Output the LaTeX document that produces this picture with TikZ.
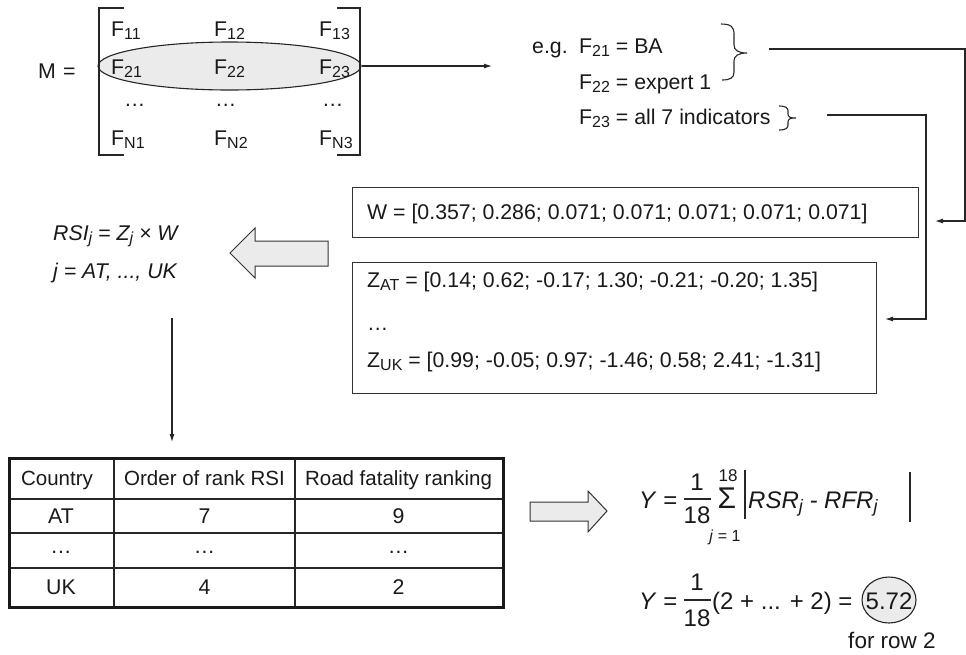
\documentclass[tikz,border=0pt]{standalone}
\usepackage{fontspec}
\setmainfont{Liberation Sans}
\usetikzlibrary{arrows.meta,shapes.geometric}
\newcommand\sbs[1]{\raisebox{-3.5pt}{\fontsize{16}{16}\selectfont #1}}
\begin{document}
\begin{tikzpicture}[x=1pt,y=-1pt,
  txt/.style={font=\fontsize{20.5}{24}\selectfont, inner sep=0pt, text=black!90},
  mtxt/.style={font=\fontsize{21.3}{24}\selectfont, inner sep=0pt, text=black!90},
  ftxt/.style={font=\fontsize{24}{28}\selectfont, inner sep=0pt, text=black!90},
  smalltxt/.style={font=\fontsize{17}{19}\selectfont, inner sep=0pt, text=black!90},
  ln/.style={line width=1.1pt, draw=black!85},
  arr/.style={ln, -{Latex[length=8pt,width=5pt]}},
  hollow/.style={line width=1pt, draw=black!80, fill=black!8},
  boxs/.style={line width=1.3pt, draw=black!80, inner sep=0pt},
  tabthin/.style={line width=1.2pt, draw=black!85},
  tabthick/.style={line width=3pt, draw=black!90},
]
\useasboundingbox (0,0) rectangle (966,654);

% ---------- matrix ----------
\node[mtxt, anchor=base west] (M) at (38,78) {M\,\,=};
\node[ellipse, draw=black!85, line width=1.1pt, fill=black!8, minimum width=263pt, minimum height=48pt, inner sep=0pt] (ell) at (229.5,66) {};
\draw[ln] (124,8) -- (99,8) -- (99,155) -- (124,155);
\draw[ln] (337,8) -- (360,8) -- (360,155) -- (337,155);
\node[mtxt, anchor=base west] (f11) at (111,36) {F\sbs{11}};
\node[mtxt, anchor=base west] (f12) at (214,36) {F\sbs{12}};
\node[mtxt, anchor=base west] (f13) at (319,36) {F\sbs{13}};
\node[mtxt, anchor=base west] (f21) at (111,74) {F\sbs{21}};
\node[mtxt, anchor=base west] (f22) at (214,74) {F\sbs{22}};
\node[mtxt, anchor=base west] (f23) at (319,74) {F\sbs{23}};
\node[mtxt, anchor=base west] (d1) at (124,106) {…};
\node[mtxt, anchor=base west] (d2) at (215,106) {…};
\node[mtxt, anchor=base west] (d3) at (322,106) {…};
\node[mtxt, anchor=base west] (fn1) at (111,145) {F\sbs{N1}};
\node[mtxt, anchor=base west] (fn2) at (214,145) {F\sbs{N2}};
\node[mtxt, anchor=base west] (fn3) at (319,145) {F\sbs{N3}};

\coordinate (egtip) at (492,66);
\draw[arr] (ell.east) -- (egtip);

% ---------- e.g. block ----------
\node[mtxt, anchor=base west] (eg) at (532,53) {e.g.};
\node[mtxt, anchor=base west] (eg1) at (579,53) {F\sbs{21} = BA};
\node[mtxt, anchor=base west] (eg2) at (579,89) {F\sbs{22} = expert 1};
\node[mtxt, anchor=base west] (eg3) at (579,124) {F\sbs{23} = all 7 indicators};
% braces
\draw[ln] (721,24) .. controls (731,24) and (734,27) .. (734,34) -- (734,45)
  .. controls (734,50) and (738,53) .. (747,53)
  .. controls (738,53) and (734,56) .. (734,61) -- (734,72)
  .. controls (734,78) and (730,80) .. (722,80);
\draw[ln] (779,106) .. controls (786,106) and (788,108) .. (788,111) -- (788,114)
  .. controls (788,117) and (790,118) .. (796,118)
  .. controls (790,118) and (788,119) .. (788,122) -- (788,125)
  .. controls (788,128) and (786,130) .. (779,130);

% ---------- W and Z boxes ----------
\node[boxs, anchor=north west, minimum width=566pt, minimum height=50pt] (wbox) at (352,187) {};
\node[mtxt, anchor=base west] (wtxt) at (367,219) {W = [0.357; 0.286; 0.071; 0.071; 0.071; 0.071; 0.071]};
\node[boxs, anchor=north west, minimum width=524pt, minimum height=131pt] (zbox) at (352,262) {};
\node[mtxt, anchor=base west] (zat) at (367,287) {Z\sbs{AT} = [0.14; 0.62; -0.17; 1.30; -0.21; -0.20; 1.35]};
\node[mtxt, anchor=base west] (zd) at (367,330) {…};
\node[mtxt, anchor=base west] (zuk) at (367,367) {Z\sbs{UK} = [0.99; -0.05; 0.97; -1.46; 0.58; 2.41; -1.31]};

% connectors from braces
\coordinate (l1a) at (769,49);
\coordinate (l1b) at (965,49);
\coordinate (l1c) at (965,221);
\coordinate (l1d) at (935,221);
\draw[arr] (l1a) -- (l1b) -- (l1c) -- (l1d);
\coordinate (l2a) at (827,115);
\coordinate (l2b) at (926,115);
\coordinate (l2c) at (926,319);
\coordinate (l2d) at (885,319);
\draw[arr] (l2a) -- (l2b) -- (l2c) -- (l2d);

% ---------- hollow left arrow ----------
\draw[hollow] (230,253) -- (255,228) -- (255,241) -- (328,241) -- (328,266) -- (255,266) -- (255,278) -- cycle;

% ---------- RSI ----------
\node[mtxt, anchor=base west] (rsi) at (53,240) {\textit{RSI\sbs{j} = Z\sbs{j} × W}};
\node[mtxt, anchor=base west] (jl) at (53,278) {\textit{j = AT, ..., UK}};
\coordinate (dA) at (172,318);
\coordinate (dB) at (172,442);
\draw[arr] (dA) -- (dB);

% ---------- table ----------
\draw[tabthin] (114,457) -- (114,606);
\draw[tabthin] (295,457) -- (295,606);
\draw[tabthin] (8,499) -- (502,499);
\draw[tabthin] (8,533) -- (502,533);
\draw[tabthin] (8,568) -- (502,568);
\node[tabthick, anchor=north west, minimum width=494pt, minimum height=149pt, inner sep=0pt] (tab) at (8,457) {};
\node[txt, anchor=base] (h1) at (57,485) {Country};
\node[txt, anchor=base] (h2) at (204.5,485) {Order of rank RSI};
\node[txt, anchor=base] (h3) at (398.5,485) {Road fatality ranking};
\node[mtxt, anchor=base] (a1) at (61,523) {AT};
\node[mtxt, anchor=base] (a2) at (204.5,523) {7};
\node[mtxt, anchor=base] (a3) at (398.5,523) {9};
\node[mtxt, anchor=base] (b1) at (61,553) {…};
\node[mtxt, anchor=base] (b2) at (204.5,553) {…};
\node[mtxt, anchor=base] (b3) at (398.5,553) {…};
\node[mtxt, anchor=base] (c1) at (61,594) {UK};
\node[mtxt, anchor=base] (c2) at (204.5,594) {4};
\node[mtxt, anchor=base] (c3) at (398.5,594) {2};

% ---------- hollow right arrow ----------
\draw[hollow] (607,511) -- (588,491) -- (588,502) -- (530,502) -- (530,521) -- (588,521) -- (588,532) -- cycle;

% ---------- formula 1 ----------
\node[ftxt, anchor=base west] (y1) at (639,508) {\textit{Y} =};
\node[ftxt, anchor=base] (n1) at (697,490) {1};
\node[ftxt, anchor=base] (dd1) at (697,523) {18};
\draw[line width=1.1pt, draw=black!85] (684,499) -- (711,499);
\node[ftxt, font=\fontsize{30}{32}\selectfont, anchor=base] (sig) at (727,508) {Σ};
\node[smalltxt, anchor=base] (sup) at (728,481) {18};
\node[smalltxt, font=\fontsize{16}{18}\selectfont, anchor=base] (low) at (725,541) {\textit{j} = 1};
\draw[line width=1.2pt, draw=black!85] (745,470) -- (745,519);
\node[ftxt, anchor=base west] (rsr) at (748,508) {\textit{RSR\raisebox{-4pt}{\fontsize{18}{18}\selectfont j} - RFR\raisebox{-4pt}{\fontsize{18}{18}\selectfont j}}};
\draw[line width=1.2pt, draw=black!85] (910,472) -- (910,522);

% ---------- formula 2 ----------
\node[ftxt, anchor=base west] (y2) at (639,609) {\textit{Y} =};
\node[ftxt, anchor=base] (n2) at (697,590) {1};
\node[ftxt, anchor=base] (dd2) at (697,626) {18};
\draw[line width=1.1pt, draw=black!85] (684,600) -- (711,600);
\node[ftxt, anchor=base west] (sum2) at (712,609) {(2 + ... + 2) =};
\node[ellipse, draw=black!85, line width=1.1pt, fill=black!8, minimum width=54pt, minimum height=46pt, inner sep=0pt] (circ) at (889,600) {};
\node[ftxt, anchor=base] (val) at (889,609) {5.72};
\node[ftxt, font=\fontsize{22.5}{26}\selectfont, anchor=base] (row2) at (892,648) {for row 2};
\end{tikzpicture}
\end{document}
